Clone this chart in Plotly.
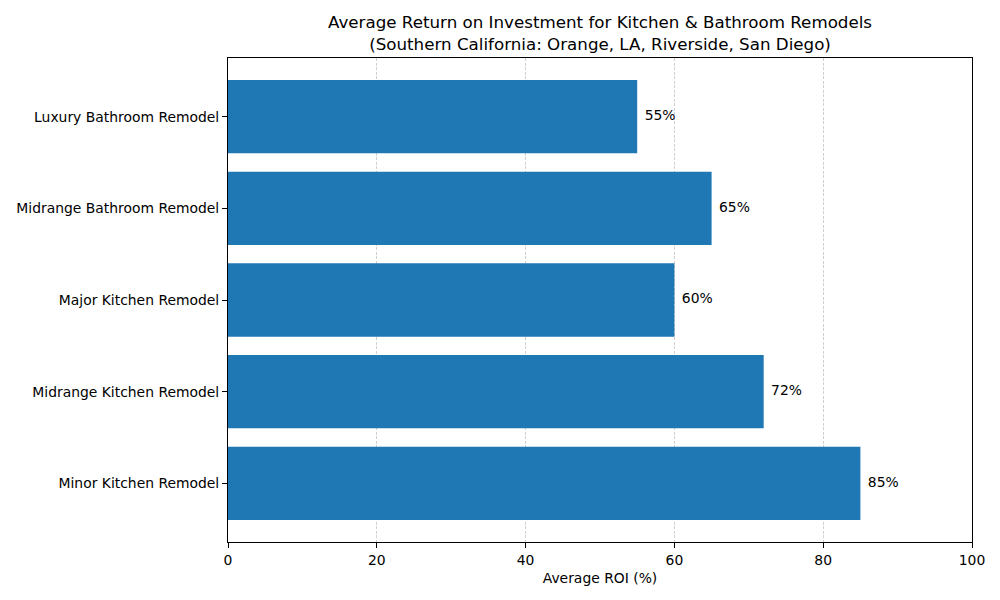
import plotly.graph_objects as go

categories = ["Minor Kitchen Remodel", "Midrange Kitchen Remodel", "Major Kitchen Remodel",
              "Midrange Bathroom Remodel", "Luxury Bathroom Remodel"]
roi = [85, 72, 60, 65, 55]
x_ticks = [0, 20, 40, 60, 80, 100]
title_text = ("Average Return on Investment for Kitchen & Bathroom Remodels<br>"
              "(Southern California: Orange, LA, Riverside, San Diego)")

FONT = "DejaVu Sans, sans-serif"
ypos = list(range(len(categories)))

fig = go.Figure()
fig.add_trace(go.Bar(
    x=roi, y=ypos, orientation="h", width=0.8,
    marker=dict(color="#1f77b4", line=dict(width=0)),
    hoverinfo="skip", showlegend=False,
))
fig.add_trace(go.Scatter(
    x=[v + 1 for v in roi], y=ypos, mode="text",
    text=[f"{v}%" for v in roi], textposition="middle right",
    textfont=dict(family=FONT, size=13.9, color="black"),
    hoverinfo="skip", showlegend=False, cliponaxis=False,
))

fig.update_layout(
    width=1000, height=600,
    margin=dict(l=220, r=36, t=50, b=66, autoexpand=False),
    plot_bgcolor="white", paper_bgcolor="white",
    font=dict(family=FONT, size=13.9, color="black"),
    bargap=0.2,
    annotations=[dict(
        text=title_text, xref="paper", yref="paper", x=0.5, y=1,
        yshift=2, xanchor="center", yanchor="bottom", showarrow=False,
        font=dict(family=FONT, size=16.7, color="black"), align="center",
    )],
)
fig.update_xaxes(
    range=[0, 100], tickvals=x_ticks, ticktext=[str(t) for t in x_ticks],
    showline=True, linecolor="black", linewidth=1, mirror=True,
    ticks="outside", ticklen=5, tickwidth=1, tickcolor="black",
    showgrid=True, gridcolor="rgba(176,176,176,0.6)", gridwidth=0.8,
    griddash="3px,1.5px", zeroline=False, layer="above traces",
    automargin=False,
    title=dict(text="Average ROI (%)", font=dict(family=FONT, size=13.9), standoff=6),
)
fig.update_yaxes(
    range=[-0.64, 4.64], tickvals=ypos, ticktext=categories,
    showline=True, linecolor="black", linewidth=1, mirror=True,
    ticks="outside", ticklen=5, tickwidth=1, tickcolor="black",
    showgrid=False, zeroline=False, automargin=False,
)

fig.write_html("out.html")
